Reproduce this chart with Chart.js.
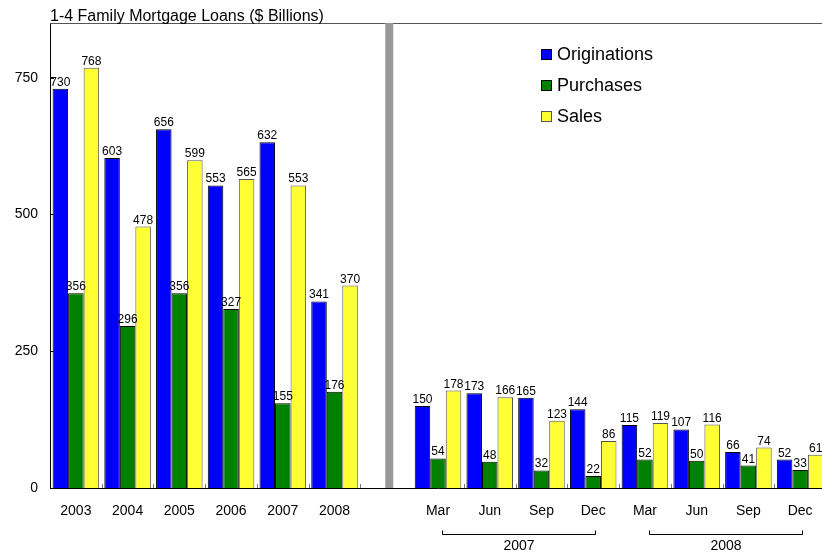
<!DOCTYPE html>
<html>
<head>
<meta charset="utf-8">
<script src="https://cdn.jsdelivr.net/npm/chart.js@4.4.1/dist/chart.umd.min.js"></script>
<style>
  html, body { margin: 0; padding: 0; background: #fff; overflow: hidden; }
  #wrap { width: 830px; height: 555px; position: relative; }
</style>
</head>
<body>
<div id="wrap"><canvas id="c" width="830" height="555"></canvas></div>
<script>
// ---- data ----
const titleText = '1-4 Family Mortgage Loans ($ Billions)';
const categories = ['2003','2004','2005','2006','2007','2008','','Mar','Jun','Sep','Dec','Mar','Jun','Sep','Dec'];
const originations = [730, 603, 656, 553, 632, 341, null, 150, 173, 165, 144, 115, 107, 66, 52];
const purchases    = [356, 296, 356, 327, 155, 176, null, 54, 48, 32, 22, 52, 50, 41, 33];
const sales        = [768, 478, 599, 565, 553, 370, null, 178, 166, 123, 86, 119, 116, 74, 61];
const seriesNames  = ['Originations', 'Purchases', 'Sales'];
const separatorIndex = 6;
const groupLabels = ['2007', '2008'];
const groupSpans  = [[7, 10], [11, 14]];
const yTicks = [0, 250, 500, 750];

const FONT = 'Arial, "Liberation Sans", sans-serif';

const overlay = {
  id: 'overlay',
  afterDraw(chart) {
    const ctx = chart.ctx;
    const area = chart.chartArea;
    const xs = chart.scales.x;
    const ys = chart.scales.y;
    ctx.save();

    // top border
    ctx.strokeStyle = '#555';
    ctx.lineWidth = 1;
    ctx.beginPath();
    ctx.moveTo(area.left, area.top + 0.5);
    ctx.lineTo(area.right, area.top + 0.5);
    ctx.stroke();

    // separator
    const sx = xs.getPixelForValue(separatorIndex) + 3;
    ctx.fillStyle = '#999999';
    ctx.fillRect(sx - 4, area.top, 8, area.bottom - area.top);

    // inward tick marks on y
    ctx.strokeStyle = '#000';
    ctx.beginPath();
    yTicks.forEach(v => {
      const y = Math.round(ys.getPixelForValue(v)) + 0.5;
      ctx.moveTo(area.left, y);
      ctx.lineTo(area.left + 4, y);
    });
    ctx.stroke();

    // inward tick marks on x (category boundaries)
    ctx.strokeStyle = '#777';
    ctx.beginPath();
    const half = (xs.getPixelForValue(1) - xs.getPixelForValue(0)) / 2;
    for (let i = 0; i < categories.length; i++) {
      if (i === separatorIndex) continue;
      const x = Math.round(xs.getPixelForValue(i) + half) + 0.5;
      ctx.moveTo(x, area.bottom);
      ctx.lineTo(x, area.bottom - 4);
    }
    ctx.stroke();

    // value labels
    ctx.fillStyle = '#000';
    ctx.font = '12px ' + FONT;
    ctx.textAlign = 'center';
    ctx.textBaseline = 'alphabetic';
    chart.data.datasets.forEach((ds, di) => {
      const meta = chart.getDatasetMeta(di);
      meta.data.forEach((bar, i) => {
        const v = ds.data[i];
        if (v === null || v === undefined) return;
        ctx.fillText(String(v), bar.x, bar.y - 3);
      });
    });

    // group brackets under quarters
    ctx.strokeStyle = '#000';
    ctx.lineWidth = 1;
    ctx.font = '14px ' + FONT;
    ctx.textBaseline = 'middle';
    groupSpans.forEach((span, gi) => {
      const x1 = Math.round(xs.getPixelForValue(span[0]) + 4) + 0.5;
      const x2 = Math.round(xs.getPixelForValue(span[1]) + 2) + 0.5;
      const yb = 534.5;
      ctx.beginPath();
      ctx.moveTo(x1, yb - 4);
      ctx.lineTo(x1, yb);
      ctx.lineTo(x2, yb);
      ctx.lineTo(x2, yb - 4);
      ctx.stroke();
      ctx.fillText(groupLabels[gi], (x1 + x2) / 2, 546);
    });

    // title
    ctx.textAlign = 'left';
    ctx.textBaseline = 'alphabetic';
    ctx.font = '16px ' + FONT;
    ctx.fillText(titleText, area.left, 21);

    // legend
    ctx.font = '18px ' + FONT;
    ctx.textBaseline = 'middle';
    chart.data.datasets.forEach((ds, di) => {
      const cy = 55 + di * 31;
      ctx.fillStyle = ds.backgroundColor;
      ctx.fillRect(541, cy - 6, 11, 11);
      ctx.strokeStyle = ds.borderColor;
      ctx.strokeRect(541.5, cy - 5.5, 10, 10);
      ctx.fillStyle = '#000';
      ctx.fillText(ds.label, 557, cy);
    });

    ctx.restore();
  }
};

new Chart(document.getElementById('c'), {
  type: 'bar',
  data: {
    labels: categories,
    datasets: [
      { label: seriesNames[0], data: originations, backgroundColor: '#0000FF', borderColor: '#000000', borderWidth: 1 },
      { label: seriesNames[1], data: purchases,    backgroundColor: '#008000', borderColor: '#000000', borderWidth: 1 },
      { label: seriesNames[2], data: sales,        backgroundColor: '#FFFF33', borderColor: '#555555', borderWidth: 1 }
    ]
  },
  options: {
    responsive: false,
    animation: false,
    devicePixelRatio: 1,
    layout: { padding: { top: 23, right: 4, left: 0, bottom: 0 } },
    datasets: { bar: { categoryPercentage: 0.9, barPercentage: 1.0 } },
    plugins: { legend: { display: false }, tooltip: { enabled: false }, title: { display: false } },
    scales: {
      x: {
        grid: { display: false, drawTicks: false },
        border: { display: true, color: '#000', width: 1 },
        ticks: { color: '#000', font: { size: 14, family: FONT }, padding: 15, maxRotation: 0, autoSkip: false },
        afterFit(s) { s.height = 67; }
      },
      y: {
        min: 0, max: 850,
        grid: { display: false, drawTicks: false },
        border: { display: true, color: '#000', width: 1 },
        ticks: { stepSize: 250, includeBounds: false, color: '#000', font: { size: 14, family: FONT }, padding: 12 },
        afterFit(s) { s.width = 50; }
      }
    }
  },
  plugins: [overlay]
});
</script>
</body>
</html>
